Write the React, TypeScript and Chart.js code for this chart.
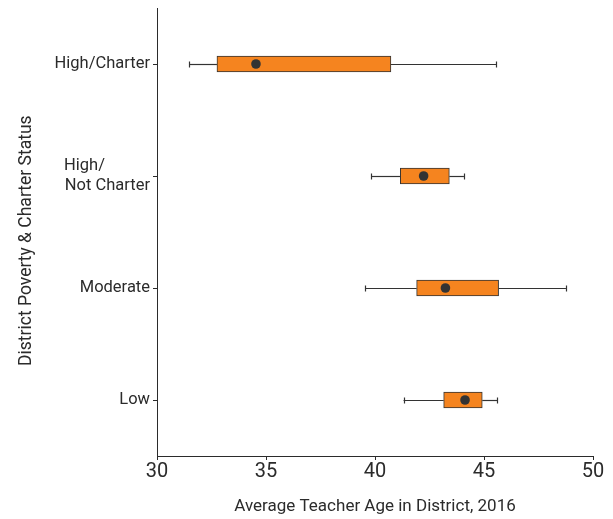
import React, { useEffect, useRef } from "react";
import { Chart, registerables } from "chart.js";

Chart.register(...registerables);

const categories: string[][] = [["High/Charter"], ["High/", "Not Charter"], ["Moderate"], ["Low"]];
const categoryKeys = ["High/Charter", "High/Not Charter", "Moderate", "Low"];
const mins = [31.47, 39.83, 39.56, 41.31];
const q1s = [32.75, 41.16, 41.91, 43.15];
const medians = [34.54, 42.23, 43.23, 44.13];
const q3s = [40.73, 43.41, 45.67, 44.92];
const maxs = [45.55, 44.08, 48.76, 45.6];
const xTicks = [30, 35, 40, 45, 50];

const FONT = "Roboto";
const INK = "#2b2b2b";
const LABEL_SIZE = 16.5;

function padLines(lines: string[], size: number): string[] {
  const c = document.createElement("canvas").getContext("2d")!;
  c.font = `${size}px ${FONT}`;
  const widths = lines.map((l) => c.measureText(l).width);
  const maxW = Math.max(...widths);
  const sp = c.measureText(" ").width || 4;
  return lines.map((l, i) => l + " ".repeat(Math.round((maxW - widths[i]) / sp)));
}

const whiskerPlugin = {
  id: "whiskers",
  afterDatasetsDraw(chart: any) {
    const { ctx, scales } = chart;
    const x = scales.x;
    const y = scales.y;
    ctx.save();
    ctx.strokeStyle = "#333333";
    ctx.lineWidth = 1.2;
    const cap = 3;
    for (let i = 0; i < categoryKeys.length; i++) {
      const yc = Math.round(y.getPixelForValue(i)) + 0.5;
      const segs = [
        [mins[i], q1s[i]],
        [q3s[i], maxs[i]],
      ];
      for (const [a, b] of segs) {
        ctx.beginPath();
        ctx.moveTo(x.getPixelForValue(a), yc);
        ctx.lineTo(x.getPixelForValue(b), yc);
        ctx.stroke();
      }
      for (const v of [mins[i], maxs[i]]) {
        const px = Math.round(x.getPixelForValue(v)) + 0.5;
        ctx.beginPath();
        ctx.moveTo(px, yc - cap);
        ctx.lineTo(px, yc + cap);
        ctx.stroke();
      }
    }
    ctx.restore();
  },
};

export default function App() {
  const ref = useRef<HTMLCanvasElement>(null);
  useEffect(() => {
    const labels = categories.map((l) => (l.length > 1 ? padLines(l, LABEL_SIZE) : l[0]));
    const chart = new Chart(ref.current!, {
      type: "bar",
      data: {
        labels: labels as any,
        datasets: [
          {
            type: "bar",
            data: q1s.map((q, i) => [q, q3s[i]]) as any,
            backgroundColor: "#F5841F",
            borderColor: "#333333",
            borderWidth: 1,
            borderSkipped: false,
            barThickness: 16,
            order: 2,
          } as any,
          {
            type: "line",
            data: medians.map((m, i) => ({ x: m, y: i })) as any,
            showLine: false,
            pointRadius: 4.8,
            pointBackgroundColor: "#333333",
            pointBorderColor: "#333333",
            pointBorderWidth: 0,
            order: 1,
          } as any,
        ],
      },
      options: {
        indexAxis: "y",
        animation: false,
        responsive: false,
        maintainAspectRatio: false,
        layout: { padding: { top: 8, right: 20, left: 0, bottom: 0 } },
        plugins: { legend: { display: false }, tooltip: { enabled: false } },
        scales: {
          x: {
            type: "linear",
            min: 30,
            max: 50,
            afterBuildTicks: (s: any) => {
              s.ticks = xTicks.map((v) => ({ value: v }));
            },
            afterFit: (s: any) => {
              s.height = 63;
            },
            grid: { drawOnChartArea: false, drawTicks: true, tickLength: 4, color: INK },
            border: { display: true, color: INK, width: 1 },
            ticks: { color: INK, font: { family: FONT, size: 20 }, padding: 0, maxRotation: 0 },
            title: {
              display: true,
              text: "Average Teacher Age in District, 2016",
              color: INK,
              font: { family: FONT, size: 17 },
              padding: { top: 0, bottom: 2 },
            },
          },
          y: {
            type: "category",
            offset: true,
            afterFit: (s: any) => {
              s.width = 157;
              s.paddingTop = 0;
              s.paddingBottom = 0;
            },
            grid: { drawOnChartArea: false, drawTicks: true, tickLength: 4, color: INK, offset: false },
            border: { display: true, color: INK, width: 1 },
            ticks: { color: INK, font: { family: FONT, size: LABEL_SIZE }, padding: 3 },
            title: {
              display: true,
              text: "District Poverty & Charter Status    ",
              color: INK,
              font: { family: FONT, size: 17.5 },
              padding: { top: 16, bottom: 0 },
            },
          },
        },
      },
      plugins: [whiskerPlugin],
    });
    return () => chart.destroy();
  }, []);
  return (
    <>
      <style>{`body{margin:0}`}</style>
      <canvas ref={ref} width={613} height={519} style={{ display: "block" }} />
    </>
  );
}
